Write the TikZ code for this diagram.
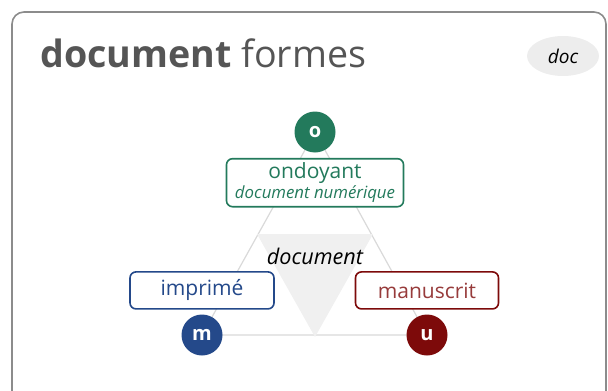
\documentclass[tikz,border=0pt]{standalone}
\usepackage{fontspec}
\setmainfont{Open Sans}
\usepackage{tikz}
\usetikzlibrary{positioning, shapes.geometric, backgrounds}
\usepackage{xcolor}
\definecolor{ondgreen}{HTML}{237A5C}
\definecolor{impblue}{HTML}{24498A}
\definecolor{manred}{HTML}{7D0A0A}
\definecolor{titlegray}{HTML}{555555}

\begin{document}
\begin{tikzpicture}[x=0.5pt, y=-0.5pt,
                  frame/.style={draw=black!45, line width=0.8pt, rounded corners=6pt},
                  box/.style={draw, rounded corners=3pt, line width=0.8pt, fill=white,
                              align=center, inner sep=1pt, minimum height=18.5pt},
                  ond/.style={box, draw=ondgreen, text=ondgreen, minimum width=88.5pt, minimum height=24pt},
                  imp/.style={box, draw=impblue, text=impblue, minimum width=72pt},
                  man/.style={box, draw=manred, text=manred!80!white, minimum width=71.5pt},
                  pole/.style={circle, minimum size=20.5pt, inner sep=0pt, text=white,
                               font=\bfseries\fontsize{10}{12}\selectfont},
                  edge/.style={draw=black!15, line width=0.6pt},
                  tag/.style={ellipse, fill=black!7, minimum width=36pt, minimum height=20pt,
                              inner sep=0pt, font=\itshape\fontsize{9.5}{11}\selectfont},
                  node distance=2.5pt,
            ]
            \clip (0,0) rectangle (608,390);
            \useasboundingbox (0,0) rectangle (608,390);

            % outer card
            \draw[frame] (12,12) rectangle (606,430);

            % header
            \node[anchor=base west, inner sep=0pt, text=titlegray,
                  font=\fontsize{18.8}{22}\selectfont] (title) at (40,68)
                  {\textbf{document} formes};
            \node[tag] (doc) at (563,56) {doc};

            % poles of the triangle
            \node[pole, fill=ondgreen] (o) at (315,132) {o};
            \node[pole, fill=impblue] (m) at (202,335) {m};
            \node[pole, fill=manred] (u) at (427,335) {u};

            % centre: the shared document
            \begin{scope}[on background layer]
              \draw[edge] (o.center) -- (m.center) -- (u.center) -- cycle;
              \fill[black!6] (257,234) -- (373,234) -- (315,337) -- cycle;
            \end{scope}
            \node[font=\itshape\fontsize{10.8}{12}\selectfont] (docu) at (315,256) {document};

            % labels of the poles
            \node[ond, below=of o] (ondo)
                  {{\fontsize{10.5}{11}\selectfont ondoyant}\\[-2pt]
                   {\itshape\fontsize{8.4}{9}\selectfont document numérique}};
            \node[imp, above=2.2pt of m, font=\fontsize{10.5}{12}\selectfont] (impr) {imprimé};
            \node[man, above=2.2pt of u, font=\fontsize{10.5}{12}\selectfont] (manu) {manuscrit};

      \end{tikzpicture}
\end{document}
